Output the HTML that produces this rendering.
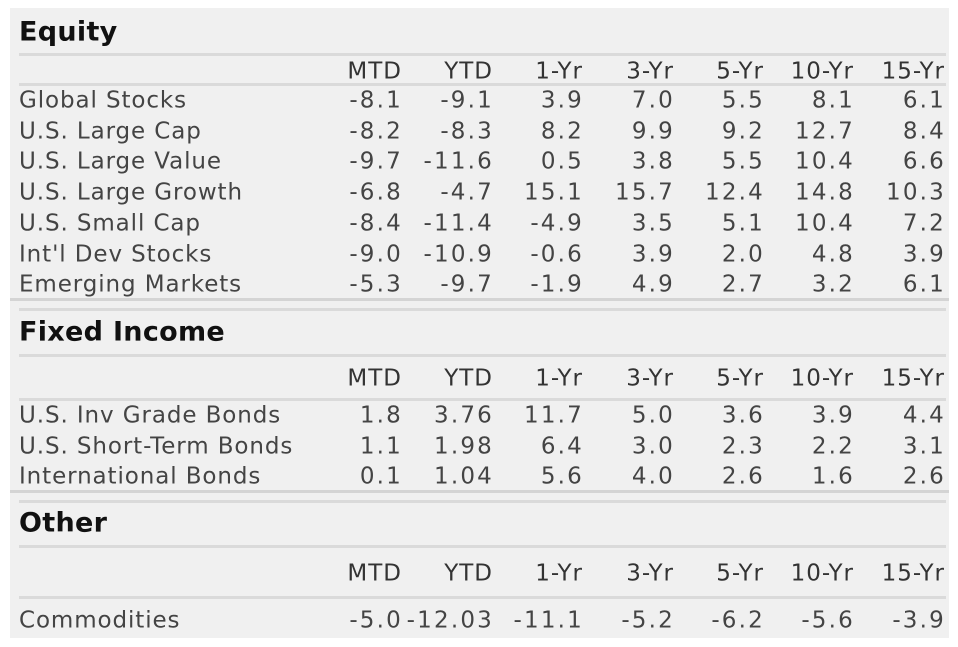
<!DOCTYPE html>
<html><head><meta charset="utf-8"><style>
body{margin:0;width:958px;height:647px;background:#fff;position:relative;overflow:hidden;font-family:"DejaVu Sans","Liberation Sans",sans-serif;}
#panel{position:absolute;left:10px;top:8px;width:939px;height:630px;background:#f0f0f0;}
.t{position:absolute;white-space:nowrap;line-height:1;transform:translateY(-50%);}
.title{font-weight:bold;font-size:27px;color:#111;left:19px;letter-spacing:0.3px;}
.lab{font-size:23px;color:#444;left:19px;letter-spacing:0.9px;}
.num{font-size:23px;color:#444;text-align:right;letter-spacing:2.2px;margin-right:-2px;}
.hdr{font-size:23px;color:#333;text-align:right;letter-spacing:1px;margin-right:-1px;}
.ln{position:absolute;left:19px;width:927px;height:3px;background:#dadada;}
.sep{position:absolute;left:10px;width:939px;height:3px;background:#d4d4d4;}
</style></head><body>
<div id="panel"></div>
<script>
const cols=["MTD","YTD","1-Yr","3-Yr","5-Yr","10-Yr","15-Yr"];
const equityNames=["Global Stocks","U.S. Large Cap","U.S. Large Value","U.S. Large Growth","U.S. Small Cap","Int'l Dev Stocks","Emerging Markets"];
const equityVals=[["-8.1","-9.1","3.9","7.0","5.5","8.1","6.1"],["-8.2","-8.3","8.2","9.9","9.2","12.7","8.4"],["-9.7","-11.6","0.5","3.8","5.5","10.4","6.6"],["-6.8","-4.7","15.1","15.7","12.4","14.8","10.3"],["-8.4","-11.4","-4.9","3.5","5.1","10.4","7.2"],["-9.0","-10.9","-0.6","3.9","2.0","4.8","3.9"],["-5.3","-9.7","-1.9","4.9","2.7","3.2","6.1"]];
const fixedNames=["U.S. Inv Grade Bonds","U.S. Short-Term Bonds","International Bonds"];
const fixedVals=[["1.8","3.76","11.7","5.0","3.6","3.9","4.4"],["1.1","1.98","6.4","3.0","2.3","2.2","3.1"],["0.1","1.04","5.6","4.0","2.6","1.6","2.6"]];
const otherNames=["Commodities"];
const otherVals=[["-5.0","-12.03","-11.1","-5.2","-6.2","-5.6","-3.9"]];
const colRight=[401,492,582,673,763,853,944];
function add(cls,txt,x,y,name,right){
  const d=document.createElement('div');
  d.className='t '+cls;d.textContent=txt;
  
  
  if(right!==undefined){d.style.right=(958-right)+'px';}
  d.style.top=y+'px';
  document.body.appendChild(d);
}
function line(cls,y){
  const d=document.createElement('div');d.className=cls;d.style.top=y+'px';
  
  
  document.body.appendChild(d);
}
function section(title,key,titleY,l1,hdrY,l2,rowY0,step,names,vals,sepY){
  add('title',title,19,titleY,key+'-title');
  line('ln',l1);
  cols.forEach((c,i)=>add('hdr',c,0,hdrY,key+'-header-'+c.toLowerCase(),colRight[i]));
  line('ln',l2);
  names.forEach((n,r)=>{
    const y=rowY0+r*step;
    add('lab',n,19,y,key+'-row-label');
    vals[r].forEach((v,i)=>add('num',v,0,y,key+'-cell',colRight[i]));
  });
  if(sepY){line('sep',sepY);line('ln',sepY+10);}
}
section('Equity','equity',32,53,72,83,101,30.7,equityNames,equityVals,298);
section('Fixed Income','fixed-income',332,354,379,398,416,30.7,fixedNames,fixedVals,490);
section('Other','other',523,545,574,596,621,30.7,otherNames,otherVals,null);
</script>
</body></html>
